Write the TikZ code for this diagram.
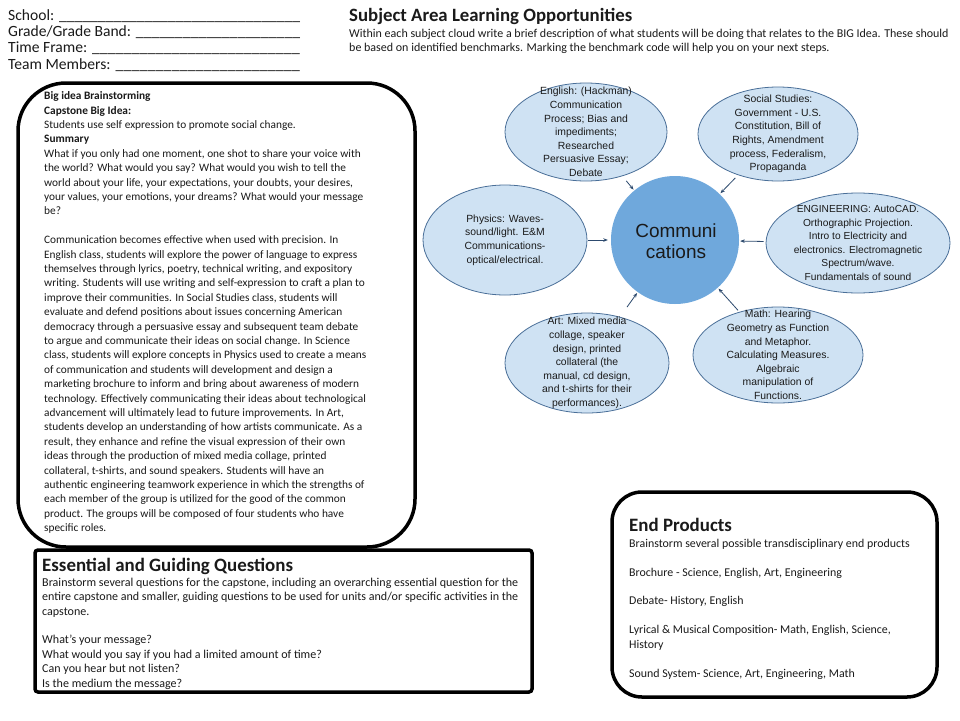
\documentclass[tikz,border=0pt]{standalone}
\usepackage{fontspec}
\setmainfont{Carlito}
\newfontfamily\arialf{Liberation Sans}
\usetikzlibrary{shapes.geometric,arrows.meta}
\definecolor{bubfill}{HTML}{CFE2F3}
\definecolor{bubline}{HTML}{4A6F98}
\definecolor{circfill}{HTML}{6FA8DC}
\definecolor{arrcol}{HTML}{2D4A6E}
\definecolor{txt}{HTML}{1A1A1A}
\newcommand{\myfs}[2]{\fontsize{#1}{#2}\selectfont}
\newcommand{\blankto}[1]{\hbox to 292pt{#1 \xleaders\hbox{\_}\hfill}}
\begin{document}
\begin{tikzpicture}[x=1pt,y=-1pt,
 bubble/.style={ellipse, draw=bubline, line width=0.8pt, fill=bubfill, inner sep=0pt},
 bubtext/.style={align=center, font=\arialf\myfs{10.4}{13.6}, text=txt, inner sep=0pt},
 conn/.style={draw=arrcol, line width=0.8pt, -{Stealth[length=4.5pt,width=3.5pt]}},
 panel/.style={draw=black, line width=3.5pt},
 body/.style={align=left, anchor=north west, inner sep=0pt, text=txt},
 head/.style={anchor=base west, inner sep=0pt, font=\myfs{15.6}{16}, text=txt},
 paneltitle/.style={anchor=base west, inner sep=0pt, font=\bfseries\myfs{18.9}{20}, text=txt}
]
\useasboundingbox[fill=white] (0,0) rectangle (960,720);

% header
\node[head] (school) at (8,20) {\blankto{School:}};
\node[head] (grade) at (8,36.5) {\blankto{Grade/Grade Band:}};
\node[head] (time) at (8,52.8) {\blankto{Time Frame:}};
\node[head] (team) at (8,69) {\blankto{Team Members:}};

% title
\node[anchor=base west, inner sep=0pt, font=\bfseries\myfs{18.8}{20}, text=txt] (title) at (349,21) {Subject Area Learning Opportunities};
\node[body, font=\myfs{12}{14}] (subtitle) at (349,27.2)
 {\strut Within each subject cloud write a brief description of what students will be doing that relates to the BIG Idea. These should\\
 be based on identified benchmarks. Marking the benchmark code will help you on your next steps.};

% left panel
\draw[panel, rounded corners=48] (18,83) rectangle (415,547);
\node[body, font=\myfs{11.35}{14.4}] (bigidea) at (44,89.4) {\strut\textbf{Big idea Brainstorming}\\
\textbf{Capstone  Big Idea:}\\
Students use self expression to promote  social change.\\
\textbf{Summary}\\
What if you only had one moment, one shot to share your voice with\\
the world? What would you say? What would you wish to tell the\\
world about your life, your expectations, your doubts,  your desires,\\
your values, your emotions, your dreams? What would your message\\
be?\\
\mbox{}\\
Communication becomes effective when used with precision.  In\\
English class, students will explore the power of language to express\\
themselves through  lyrics, poetry,  technical writing, and expository\\
writing. Students will use writing and self-expression to craft a plan to\\
improve their communities.  In Social Studies class, students will\\
evaluate and defend positions about issues concerning  American\\
democracy through  a persuasive essay and subsequent  team debate\\
to argue and communicate their ideas on social change.  In Science\\
class, students will explore  concepts in Physics used to create a means\\
of communication and students will development and design a\\
marketing brochure  to inform and bring about  awareness of modern\\
technology.  Effectively communicating their ideas about technological\\
advancement will ultimately lead to future improvements. In Art,\\
students develop an understanding of how artists communicate.  As a\\
result, they enhance and refine the visual expression of their own\\
ideas through  the production  of mixed media collage, printed\\
collateral, t-shirts, and sound  speakers. Students will have an\\
authentic engineering teamwork experience  in which the strengths of\\
each member of the group is utilized for the good of the common\\
product.  The groups will be composed  of four  students  who have\\
specific roles.};

% essential questions
\draw[panel, rounded corners=3] (35,550) rectangle (532,692);
\node[paneltitle] (esstitle) at (42,571) {Essential and Guiding Questions};
\node[body, font=\myfs{12.05}{14.4}] (esstext) at (42,576) {\strut Brainstorm several questions  for the capstone, including  an overarching  essential question for the\\
entire capstone and smaller, guiding questions to be used for units and/or specific activities in the\\
capstone.\\
\mbox{}\\
What’s your  message?\\
What would you say if you had a limited amount of time?\\
Can you hear but not listen?\\
Is the medium the message?};

% end products
\draw[panel, rounded corners=30] (612,492) rectangle (937,697);
\node[paneltitle] (endtitle) at (629,531) {End Products};
\node[body, font=\myfs{11.9}{14.44}] (endtext) at (629,536.9) {\strut Brainstorm several possible transdisciplinary end products\\
\mbox{}\\
Brochure - Science, English, Art, Engineering\\
\mbox{}\\
Debate- History, English\\
\mbox{}\\
Lyrical \& Musical Composition- Math, English, Science,\\
History\\
\mbox{}\\
Sound System- Science, Art, Engineering, Math};

% bubbles
\node[circle, fill=circfill, minimum size=128pt, inner sep=0pt] (circ) at (675,240) {};
\node[align=center, inner sep=0pt, font=\arialf\myfs{19}{21}, text=txt] (circt) at (676,241) {Communi\\cations};

\node[bubble, minimum width=162pt, minimum height=98pt] (eng) at (586,132) {};
\node[bubtext] (engt) at (eng) {English: (Hackman)\\Communication\\Process; Bias and\\impediments;\\Researched\\Persuasive Essay;\\Debate};

\node[bubble, minimum width=160pt, minimum height=94pt] (soc) at (778,134) {};
\node[bubtext] (soct) at (soc) {Social Studies:\\Government - U.S.\\Constitution, Bill of\\Rights, Amendment\\process, Federalism,\\Propaganda};

\node[bubble, minimum width=164pt, minimum height=110pt] (phy) at (505,240) {};
\node[bubtext] (phyt) at (phy) {Physics: Waves-\\sound/light. E\&M\\Communications-\\optical/electrical.};

\node[bubble, minimum width=184pt, minimum height=100pt] (engi) at (858,243) {};
\node[bubtext, font=\arialf\myfs{10.2}{13.6}] (engit) at (engi) {ENGINEERING: AutoCAD.\\Orthographic Projection.\\Intro to Electricity and\\electronics. Electromagnetic\\Spectrum/wave.\\Fundamentals of sound};

\node[bubble, minimum width=164pt, minimum height=100pt] (art) at (587,363) {};
\node[bubtext] (artt) at (art) {Art:  Mixed media\\collage, speaker\\design, printed\\collateral (the\\manual, cd design,\\and t-shirts for their\\performances).};

\node[bubble, minimum width=170pt, minimum height=96pt] (math) at (778,355) {};
\node[bubtext] (matht) at (math) {Math:  Hearing\\Geometry as Function\\and Metaphor.\\Calculating Measures.\\Algebraic\\manipulation of\\Functions.};

% connectors
\draw[conn, shorten <=6pt, shorten >=1pt] (eng) -- (circ);
\draw[conn, shorten <=4pt, shorten >=1pt] (soc) -- (circ);
\draw[conn, shorten <=1pt, shorten >=3pt] (phy) -- (circ);
\draw[conn, shorten <=2pt, shorten >=1pt] (engi) -- (circ);
\draw[conn, shorten <=12pt, shorten >=1pt] (art) -- (circ);
\draw[conn, shorten <=2pt, shorten >=1pt] (math) -- (circ);
\end{tikzpicture}
\end{document}
